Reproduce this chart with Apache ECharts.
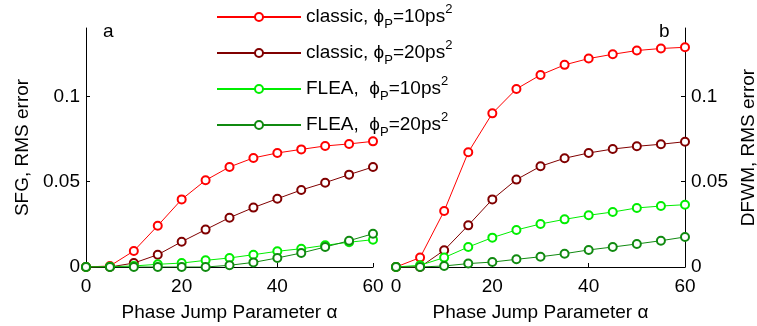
<!DOCTYPE html>
<html><head><meta charset="utf-8">
<script src="https://cdn.jsdelivr.net/npm/echarts@6/dist/echarts.min.js"></script>
<style>html,body{margin:0;padding:0;background:#fff}#c{width:757px;height:326px}</style>
</head><body><div id="c"></div>
<script>
const alpha = [0,5,10,15,20,25,30,35,40,45,50,55,60];
const seriesNames = ['classic, ϕP=10ps²','classic, ϕP=20ps²','FLEA,  ϕP=10ps²','FLEA,  ϕP=20ps²'];
const seriesColors = ['#ff0000','#800000','#00ee00','#108a10'];
// panel a: SFG
const sfgClassic10 = [0,0.0006,0.0094,0.0242,0.0396,0.0508,0.0586,0.0639,0.0668,0.0689,0.0709,0.0721,0.0736];
const sfgClassic20 = [0,0,0.0023,0.0072,0.0148,0.0219,0.0289,0.0348,0.0400,0.0451,0.0494,0.0541,0.0586];
const sfgFlea10    = [0,0.0002,0.0006,0.0016,0.0023,0.0039,0.0053,0.0072,0.0092,0.0107,0.0127,0.0145,0.0160];
const sfgFlea20    = [0,0,0,0,0,0,0.0010,0.0027,0.0053,0.0082,0.0117,0.0154,0.0195];
// panel b: DFWM
const dfwmClassic10 = [0,0.0055,0.0328,0.0672,0.0900,0.1043,0.1125,0.1184,0.1221,0.1246,0.1268,0.1280,0.1287];
const dfwmClassic20 = [0,0,0.0098,0.0244,0.0396,0.0512,0.0590,0.0637,0.0668,0.0691,0.0707,0.0719,0.0734];
const dfwmFlea10    = [0,0.0010,0.0055,0.0117,0.0172,0.0217,0.0252,0.0279,0.0303,0.0322,0.0346,0.0357,0.0365];
const dfwmFlea20    = [0,0,0.0006,0.0020,0.0029,0.0045,0.0060,0.0078,0.0100,0.0117,0.0135,0.0154,0.0176];
const yTicks = [0,0.05,0.1];
const xTicks = [0,20,40,60];

const sfg = [sfgClassic10, sfgClassic20, sfgFlea10, sfgFlea20];
const dfwm = [dfwmClassic10, dfwmClassic20, dfwmFlea10, dfwmFlea20];
const FONT = 'Liberation Sans, Arial, sans-serif';
const fs = 19;

function mkSeries(arr, idx) {
  return arr.map((vals, i) => ({
    type: 'line', name: seriesNames[i], xAxisIndex: idx, yAxisIndex: idx,
    data: alpha.map((a, j) => [a, vals[j]]),
    symbol: 'emptyCircle', symbolSize: 8, showAllSymbol: true,
    lineStyle: { color: seriesColors[i], width: 1 },
    itemStyle: { color: seriesColors[i], borderColor: seriesColors[i], borderWidth: 1 },
    emphasis: { disabled: true }, animation: false
  }));
}
const xAx = (gi) => ({
  type: 'value', gridIndex: gi, min: 0, max: 60, interval: 20,
  name: 'Phase Jump Parameter α', nameLocation: 'middle', nameGap: 36,
  nameTextStyle: { fontFamily: FONT, fontSize: fs, color: '#000' },
  axisLine: { onZero: false, lineStyle: { color: '#000', width: 1 } },
  axisTick: { inside: true, length: 4, lineStyle: { color: '#000' }, customValues: xTicks },
  axisLabel: { fontFamily: FONT, fontSize: fs, color: '#000', margin: 10, customValues: xTicks },
  splitLine: { show: false }
});
const yAx = (gi, pos, name) => ({
  type: 'value', gridIndex: gi, min: 0, max: 0.14, position: pos,
  name: name, nameLocation: 'middle', nameRotate: 90, nameGap: 54,
  nameTextStyle: { fontFamily: FONT, fontSize: fs, color: '#000' },
  axisLine: { show: true, onZero: false, lineStyle: { color: '#000', width: 1 } },
  axisTick: { show: true, inside: true, length: 4, lineStyle: { color: '#000' }, customValues: yTicks },
  axisLabel: { fontFamily: FONT, fontSize: fs, color: '#000', margin: 6, customValues: yTicks,
               formatter: v => String(+v.toFixed(3)) },
  splitLine: { show: false }
});

const chart = echarts.init(document.getElementById('c'), null, { renderer: 'canvas' });
chart.setOption({
  backgroundColor: '#fff',
  animation: false,
  grid: [
    { left: 86, top: 28, width: 287, height: 239, outerBoundsMode: 'none', containLabel: false },
    { left: 396, top: 28, width: 289, height: 239, outerBoundsMode: 'none', containLabel: false }
  ],
  xAxis: [xAx(0), xAx(1)],
  yAxis: [yAx(0, 'left', 'SFG, RMS error'), yAx(1, 'right', 'DFWM, RMS error')],
  legend: {
    orient: 'vertical', left: 216, top: 3, itemWidth: 84, itemHeight: 10, itemGap: 8,
    selectedMode: false, padding: 0,
    data: seriesNames,
    formatter: n => n.replace('ϕP', 'ϕ{sub|P}').replace('ps²', 'ps{sup|2}'),
    textStyle: {
      fontFamily: FONT, fontSize: fs, color: '#000', lineHeight: 28,
      rich: {
        sub: { fontFamily: FONT, fontSize: 13, color: '#000', verticalAlign: 'bottom', lineHeight: 13 },
        sup: { fontFamily: FONT, fontSize: 13, color: '#000', verticalAlign: 'top', lineHeight: 13 }
      }
    }
  },
  graphic: [
    { type: 'text', left: 103, top: 22, style: { text: 'a', font: fs + 'px ' + FONT, fill: '#000' } },
    { type: 'text', left: 659, top: 22, style: { text: 'b', font: fs + 'px ' + FONT, fill: '#000' } }
  ],
  series: [...mkSeries(sfg, 0), ...mkSeries(dfwm, 1)]
});
</script></body></html>
